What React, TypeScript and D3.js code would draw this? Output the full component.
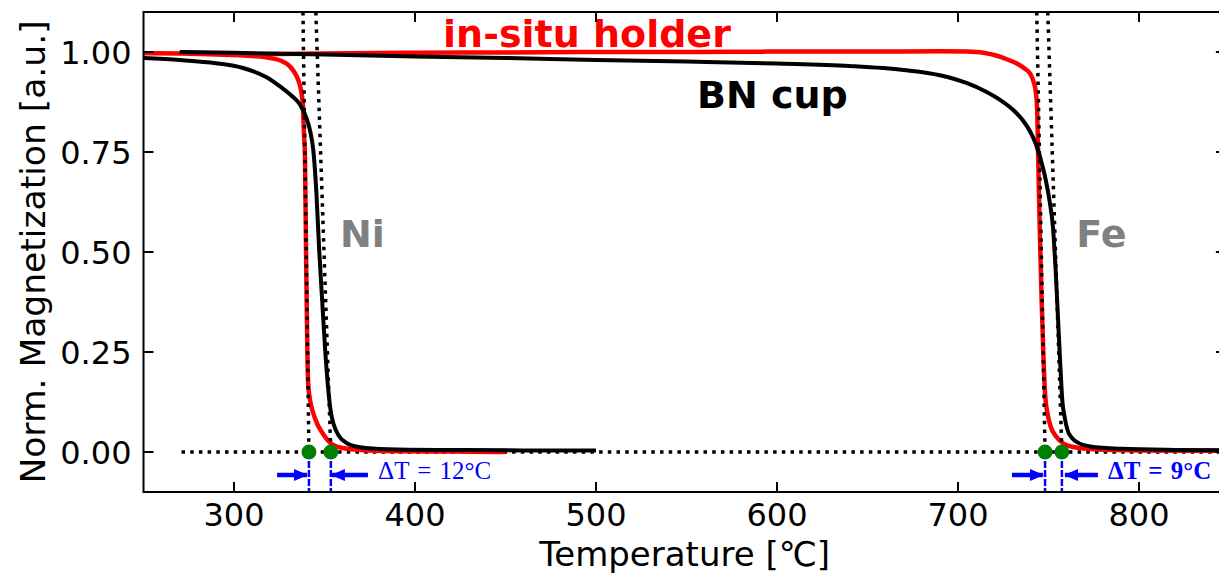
import { useEffect, useRef } from "react";
import * as d3 from "d3";

type Pt = [number, number];

// Ni, in-situ holder (red)
const niHolder: Pt[] = [
  [250, 0.997], [270, 0.996], [290, 0.994], [310, 0.99], [320, 0.985], [326, 0.978],
  [330, 0.968], [333, 0.952], [335.5, 0.93], [337, 0.905], [338, 0.87], [338.6, 0.8],
  [339.2, 0.74], [339.8, 0.5], [340.5, 0.26], [341, 0.17], [342, 0.13], [343.6, 0.1],
  [346, 0.07], [348.5, 0.05], [354, 0.02], [360, 0.01], [370, 0.005], [390, 0.002],
  [420, 0.001], [450, 0.0],
];

// Fe, in-situ holder (red)
const feHolder: Pt[] = [
  [300, 0.994], [350, 0.996], [400, 0.998], [450, 0.999], [500, 1.0], [550, 1.0],
  [600, 1.001], [650, 1.001], [690, 1.002], [705, 1.001], [714, 0.998], [722, 0.99],
  [728, 0.98], [733, 0.97], [737, 0.958], [740, 0.945], [741.8, 0.925], [743, 0.9],
  [743.7, 0.86], [744.2, 0.76], [745.2, 0.55], [746.2, 0.38], [747.2, 0.24], [748.2, 0.14],
  [749.5, 0.095], [751.5, 0.06], [754, 0.04], [758, 0.022], [763, 0.013], [775, 0.007],
  [800, 0.004], [848, 0.003],
];

// Ni, BN cup (black)
const niCup: Pt[] = [
  [250, 0.985], [270, 0.98], [290, 0.972], [305, 0.96], [318, 0.937], [326, 0.912],
  [332, 0.89], [336.5, 0.868], [340, 0.835], [342.2, 0.8], [343.8, 0.755], [345.5, 0.65],
  [347, 0.51], [348.7, 0.38], [350.3, 0.26], [352, 0.16], [353.5, 0.1], [355, 0.07],
  [358, 0.04], [362.4, 0.022], [369.6, 0.012], [385, 0.007], [420, 0.005], [460, 0.004],
  [500, 0.004],
];

// Fe, BN cup (black)
const feCup: Pt[] = [
  [270, 1.0], [300, 0.998], [350, 0.994], [400, 0.989], [450, 0.985], [500, 0.98],
  [550, 0.976], [600, 0.971], [640, 0.965], [670, 0.955], [690, 0.942], [705, 0.922],
  [715, 0.902], [724, 0.878], [731, 0.853], [736, 0.828], [740, 0.8], [743, 0.77],
  [745.5, 0.735], [748, 0.69], [750.5, 0.63], [752.5, 0.56], [754, 0.45], [755.3, 0.33],
  [756.5, 0.22], [757.6, 0.13], [759, 0.085], [760.5, 0.055], [763, 0.035], [766, 0.024],
  [773, 0.014], [790, 0.008], [820, 0.005], [848, 0.004],
];

const xTicks = [300, 400, 500, 600, 700, 800];
const yTicks = [0, 0.25, 0.5, 0.75, 1.0];

// dotted guide lines: temperature at top of axis, temperature at zero
const guideTop = [338.1, 345.2, 743.5, 749.6];
const guideBottom = [341.4, 353.5, 748.1, 757.4];

// Curie points (green dots)
const tcPoints = [341.4, 353.5, 748.1, 757.4];

// arrow pairs [from, to]
const arrowFrom = [323.8, 374, 729.8, 777.3];
const arrowTo = [340.3, 354.1, 746.9, 759.1];

const deltaText = ["ΔT = 12°C", "ΔT = 9°C"];
const deltaAt = [379.6, 782.9];

const App = () => {
  const ref = useRef<SVGSVGElement | null>(null);

  useEffect(() => {
    const W = 1219;
    const H = 575;
    const svg = d3.select(ref.current);
    svg.selectAll("*").remove();
    svg.attr("width", W).attr("height", H);

    const x = d3.scaleLinear().domain([250, 848]).range([143.5, 143.5 + 598 * 1.81]);
    const y = d3.scaleLinear().domain([-0.1, 1.1]).range([492, 12]);
    const x0 = x.range()[0], x1 = x.range()[1];
    const y0 = y.range()[0], y1 = y.range()[1];

    svg.append("defs")
      .append("marker")
      .attr("id", "head")
      .attr("markerUnits", "userSpaceOnUse")
      .attr("markerWidth", 14)
      .attr("markerHeight", 14)
      .attr("refX", 13)
      .attr("refY", 7)
      .attr("orient", "auto")
      .append("path")
      .attr("d", "M0,1 L14,7 L0,13 z")
      .attr("fill", "#0000ff");

    const line = d3.line<Pt>()
      .x((d) => x(d[0]))
      .y((d) => y(d[1]))
      .curve(d3.curveMonotoneX);

    const plot = svg.append("g");

    // horizontal dotted zero line
    plot.append("line")
      .attr("x1", x(271)).attr("x2", x1)
      .attr("y1", y(0)).attr("y2", y(0))
      .attr("stroke", "#000").attr("stroke-width", 3.5)
      .attr("stroke-dasharray", "3.5,5.2");

    [niHolder, feHolder].forEach((d) => {
      plot.append("path").datum(d).attr("d", line)
        .attr("fill", "none").attr("stroke", "#ff0000").attr("stroke-width", 4.5);
    });
    [niCup, feCup].forEach((d) => {
      plot.append("path").datum(d).attr("d", line)
        .attr("fill", "none").attr("stroke", "#000").attr("stroke-width", 4);
    });

    guideTop.forEach((t, i) => {
      plot.append("line")
        .attr("x1", x(t)).attr("y1", y1)
        .attr("x2", x(guideBottom[i])).attr("y2", y(0))
        .attr("stroke", "#000").attr("stroke-width", 3.5)
        .attr("stroke-dasharray", "3.5,5.2");
    });

    // blue dashed drops + arrows
    tcPoints.forEach((t) => {
      plot.append("line")
        .attr("x1", x(t)).attr("x2", x(t))
        .attr("y1", y(0)).attr("y2", y0)
        .attr("stroke", "#0000ff").attr("stroke-width", 2.5)
        .attr("stroke-dasharray", "7,2");
    });
    arrowFrom.forEach((f, i) => {
      plot.append("line")
        .attr("x1", x(f)).attr("x2", x(arrowTo[i]))
        .attr("y1", y(-0.0575)).attr("y2", y(-0.0575))
        .attr("stroke", "#0000ff").attr("stroke-width", 4.5)
        .attr("marker-end", "url(#head)");
    });

    plot.selectAll("circle.tc").data(tcPoints).enter()
      .append("circle")
      .attr("cx", (d) => x(d)).attr("cy", y(0)).attr("r", 7.5)
      .attr("fill", "#008000");

    deltaText.forEach((s, i) => {
      plot.append("text")
        .attr("x", x(deltaAt[i])).attr("y", y(-0.067))
        .attr("font-family", "'Liberation Serif', 'DejaVu Serif', serif")
        .attr("font-size", 25)
        .attr("font-weight", i === 1 ? "bold" : "normal")
        .attr("fill", "#0000ff")
        .attr("word-spacing", 2)
        .text(s);
    });

    // labels
    const label = (s: string, tx: number, ty: number, color: string) =>
      plot.append("text")
        .attr("x", x(tx)).attr("y", y(ty))
        .attr("font-family", "'DejaVu Sans', sans-serif")
        .attr("font-size", 38).attr("font-weight", "bold")
        .attr("fill", color).text(s);
    label("in-situ holder", 415.5, 1.0125, "#ff0000");
    label("BN cup", 555.8, 0.86, "#000");
    label("Ni", 358.5, 0.5125, "#808080");
    label("Fe", 765.4, 0.5125, "#808080");

    // frame
    svg.append("rect")
      .attr("x", x0).attr("y", y1)
      .attr("width", x1 - x0).attr("height", y0 - y1)
      .attr("fill", "none").attr("stroke", "#000").attr("stroke-width", 2);

    const ax = svg.append("g").attr("stroke", "#000").attr("stroke-width", 2);
    xTicks.forEach((t) => {
      ax.append("line").attr("x1", x(t)).attr("x2", x(t)).attr("y1", y0).attr("y2", y0 - 10);
      ax.append("line").attr("x1", x(t)).attr("x2", x(t)).attr("y1", y1).attr("y2", y1 + 10);
    });
    yTicks.forEach((t) => {
      ax.append("line").attr("x1", x0).attr("x2", x0 + 10).attr("y1", y(t)).attr("y2", y(t));
      ax.append("line").attr("x1", x1).attr("x2", x1 - 10).attr("y1", y(t)).attr("y2", y(t));
    });

    const font = "'DejaVu Sans', sans-serif";
    svg.selectAll("text.xt").data(xTicks).enter().append("text")
      .attr("x", (d) => x(d)).attr("y", y0 + 34)
      .attr("text-anchor", "middle").attr("font-family", font).attr("font-size", 32)
      .text((d) => String(d));
    svg.selectAll("text.yt").data(yTicks).enter().append("text")
      .attr("x", x0 - 12).attr("y", (d) => y(d) + 12)
      .attr("text-anchor", "end").attr("font-family", font).attr("font-size", 32)
      .text((d) => d3.format(".2f")(d));

    svg.append("text")
      .attr("transform", `translate(45, ${(y0 + y1) / 2}) rotate(-90)`)
      .attr("text-anchor", "middle").attr("font-family", font).attr("font-size", 34.5)
      .text("Norm. Magnetization [a.u.]");
    svg.append("text")
      .attr("x", (x0 + x1) / 2).attr("y", 566)
      .attr("text-anchor", "middle").attr("font-family", font).attr("font-size", 34)
      .text("Temperature [℃]");
  }, []);

  return (
    <svg ref={ref} style={{ position: "absolute", left: 0, top: 0, background: "#fff" }} />
  );
};

export default App;
